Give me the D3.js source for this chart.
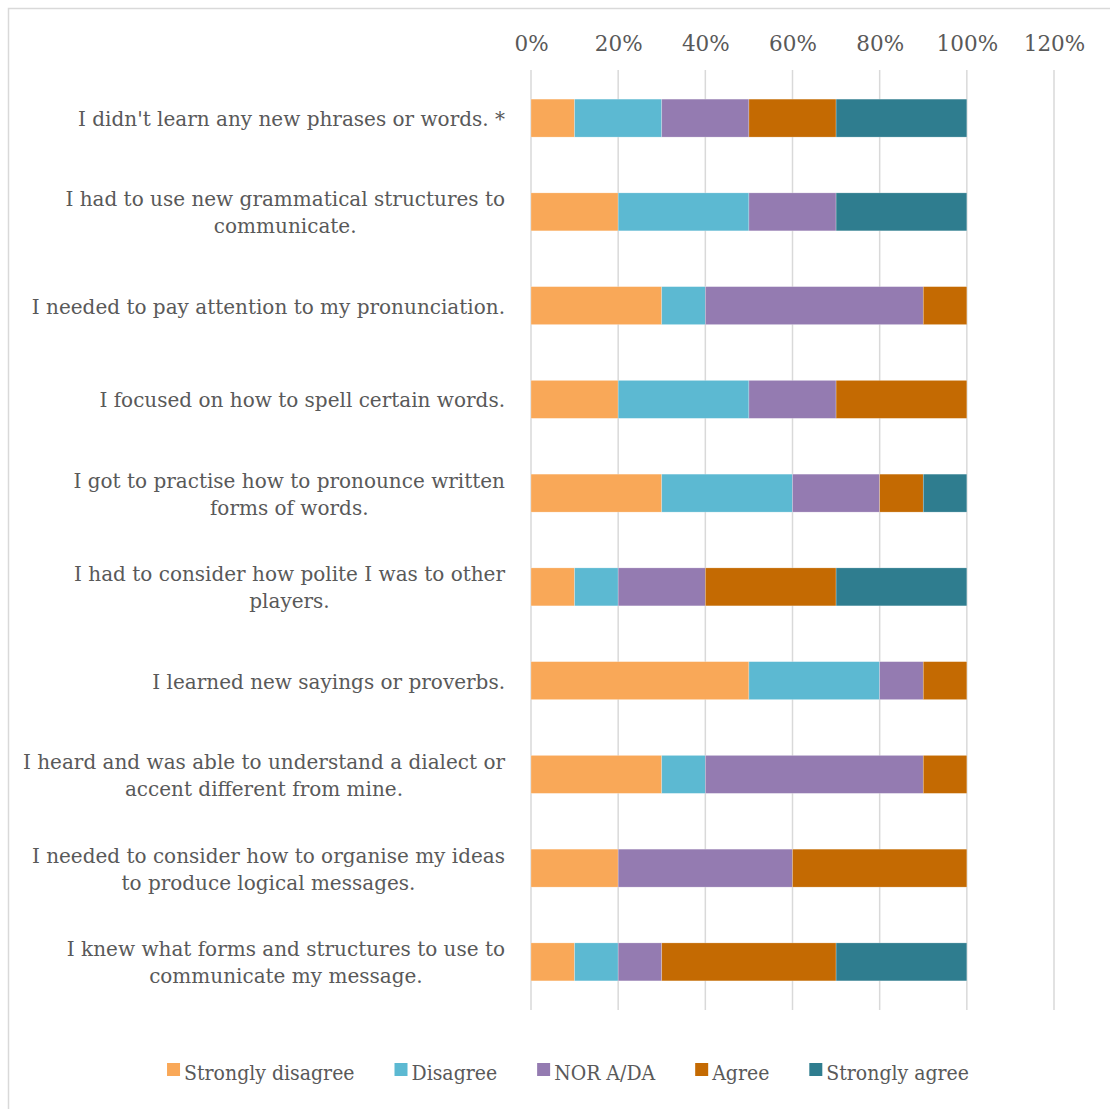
<!DOCTYPE html>
<html>
<head>
<meta charset="utf-8">
<script src="https://cdn.jsdelivr.net/npm/d3@7"></script>
<style>
  body { margin: 0; background: #fff; }
  svg { display: block; font-family: "DejaVu Serif", serif; }
</style>
</head>
<body>
<svg id="chart"></svg>
<script>
// questionnaire statements (already split into the lines they wrap to)
var statements = [
  ["I didn't learn any new phrases or words. *"],
  ["I had to use new grammatical structures to", "communicate."],
  ["I needed to pay attention to my pronunciation."],
  ["I focused on how to spell certain words."],
  ["I got to practise how to pronounce written", "forms of words."],
  ["I had to consider how polite I was to other", "players."],
  ["I learned new sayings or proverbs."],
  ["I heard and was able to understand a dialect or", "accent different from mine."],
  ["I needed to consider how to organise my ideas", "to produce logical messages."],
  ["I knew what forms and structures to use to", "communicate my message."]
]
var answers = ["Strongly disagree", "Disagree", "NOR A/DA", "Agree", "Strongly agree"]
var colours = ["#f9a858", "#5cb9d2", "#947bb1", "#c46a02", "#2f7d8f"]

// share of answers per statement (fractions)
var stronglyDisagree = [0.1, 0.2, 0.3, 0.2, 0.3, 0.1, 0.5, 0.3, 0.2, 0.1]
var disagree         = [0.2, 0.3, 0.1, 0.3, 0.3, 0.1, 0.3, 0.1, 0.0, 0.1]
var neither          = [0.2, 0.2, 0.5, 0.2, 0.2, 0.2, 0.1, 0.5, 0.4, 0.1]
var agree            = [0.2, 0.0, 0.1, 0.3, 0.1, 0.3, 0.1, 0.1, 0.4, 0.4]
var stronglyAgree    = [0.3, 0.3, 0.0, 0.0, 0.1, 0.3, 0.0, 0.0, 0.0, 0.3]
var ticks = [0, 0.2, 0.4, 0.6, 0.8, 1.0, 1.2]

var width = 1110
var height = 1109
var svg = d3.select("#chart").attr("width", width).attr("height", height)

//outer chart border
svg.append("rect")
  .attr("x", 8.5).attr("y", 8.5)
  .attr("width", width + 10).attr("height", height + 10)
  .attr("fill", "none").attr("stroke", "#d9d9d9").attr("stroke-width", 1.5)

var rows = statements.map(function(s, i) {
  return { label: s, "Strongly disagree": stronglyDisagree[i], "Disagree": disagree[i],
    "NOR A/DA": neither[i], "Agree": agree[i], "Strongly agree": stronglyAgree[i] }
})

var x = d3.scaleLinear().domain([0, 1.2]).range([531, 1054])
var y = d3.scaleBand().domain(d3.range(rows.length)).range([71, 1009]).paddingInner(0.595).paddingOuter(0.3)
var colour = d3.scaleOrdinal().domain(answers).range(colours)

//gridlines + top labels
var axis = svg.append("g").attr("transform", "translate(0,70)")
  .call(d3.axisTop(x).tickValues(ticks).tickFormat(d3.format(".0%")).tickSize(0).tickPadding(19))
axis.select(".domain").remove()
axis.selectAll("text").attr("fill", "#595959").style("font-size", "21.5px")
  .style("font-family", "DejaVu Serif, serif")

svg.append("g").selectAll("line")
  .data(ticks).enter().append("line")
  .attr("x1", d => x(d)).attr("x2", d => x(d))
  .attr("y1", 70).attr("y2", 1010)
  .attr("stroke", "#d9d9d9").attr("stroke-width", 1.5)

var stacked = d3.stack().keys(answers)(rows)

svg.append("g").selectAll("g")
  .data(stacked).enter().append("g")
  .attr("fill", d => colour(d.key))
  .selectAll("rect")
  .data(d => d).enter().append("rect")
  .attr("x", d => x(d[0]))
  .attr("y", (d, i) => y(i))
  .attr("width", d => x(d[1]) - x(d[0]))
  .attr("height", y.bandwidth())
  .attr("stroke", "#ffffff").attr("stroke-opacity", 0.4).attr("stroke-width", 0.6)

//statement labels
var labels = svg.append("g").selectAll("text")
  .data(rows).enter().append("text")
  .attr("text-anchor", "middle")
  .attr("fill", "#595959")
  .style("font-size", "20px")
labels.each(function(d, i) {
  var t = d3.select(this)
  var lines = d.label
  var cy = y(i) + y.bandwidth() / 2
  var lh = 27
  // right aligned block, lines centred on each other
  var tmp = []
  lines.forEach(function(l, j) {
    tmp.push(t.append("tspan").attr("y", cy - (lines.length - 1) * lh / 2 + j * lh + 8).text(l))
  })
  var w = d3.max(tmp, s => s.node().getComputedTextLength())
  tmp.forEach(s => s.attr("x", 505 - w / 2))
})

//legend
var legend = svg.append("g").attr("transform", "translate(0,1072)")
var items = legend.selectAll("g").data(answers).enter().append("g")
items.append("rect").attr("width", 13).attr("height", 13).attr("y", -9)
  .attr("fill", d => colour(d))
items.append("text").attr("x", 17).attr("y", 8).attr("fill", "#595959")
  .style("font-family", "DejaVu Serif Condensed, DejaVu Serif, serif")
  .style("font-size", "21px").text(d => d)
var pos = 0, gap = 40, offs = []
items.each(function() {
  offs.push(pos)
  pos += 17 + d3.select(this).select("text").node().getComputedTextLength() + gap
})
var start = 568 - (pos - gap) / 2
items.attr("transform", (d, i) => "translate(" + (start + offs[i]) + ",0)")
</script>
</body>
</html>
